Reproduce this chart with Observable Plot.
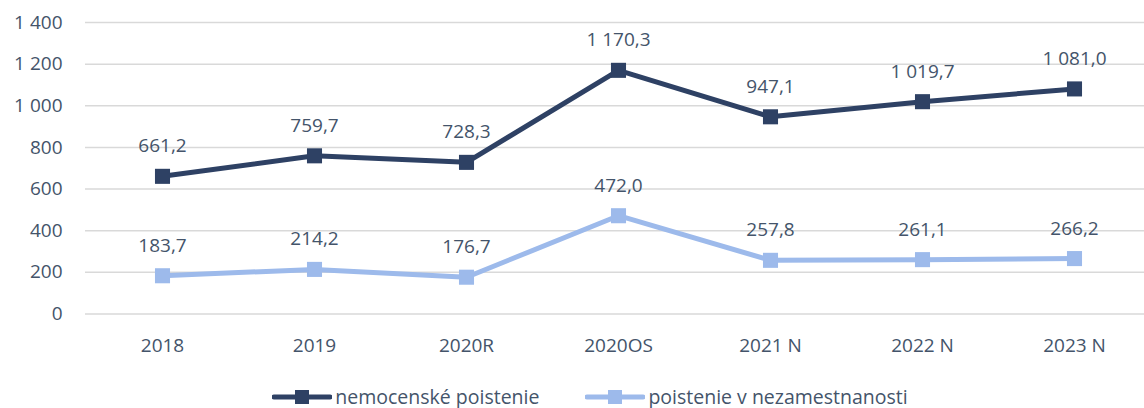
<!DOCTYPE html>
<html><head><meta charset="utf-8">
<script src="https://cdn.jsdelivr.net/npm/d3@7"></script>
<script src="https://cdn.jsdelivr.net/npm/@observablehq/plot@0.6"></script>
<style>
body{margin:0;background:#fff;font-family:"Open Sans",sans-serif;overflow:hidden;}
#chart svg{display:block;}
#legend{display:flex;justify-content:center;gap:46px;padding-left:36px;margin-top:16px;font-size:19.5px;line-height:22px;color:#44546a;}
#legend .it{display:flex;align-items:center;height:22px;}
#legend svg{margin-right:3px;display:block;}
</style></head>
<body>
<div id="chart"></div>
<div id="legend"></div>
<script>
const categories = ["2018","2019","2020R","2020OS","2021 N","2022 N","2023 N"];
const nemocenske = [661.2, 759.7, 728.3, 1170.3, 947.1, 1019.7, 1081.0];
const nezamestnanost = [183.7, 214.2, 176.7, 472.0, 257.8, 261.1, 266.2];
const seriesNames = ["nemocenské poistenie","poistenie v nezamestnanosti"];
const colors = ["#2e4164","#9dbaeb"];
const yTicks = [0,200,400,600,800,1000,1200,1400];

const loc = d3.formatLocale({decimal:",", thousands:" ", grouping:[3], currency:["",""]});
const fLab = loc.format(",.1f");
const fTick = loc.format(",d");

const data = [];
categories.forEach((c,i)=>{
  data.push({cat:c, v:nemocenske[i], s:seriesNames[0]});
  data.push({cat:c, v:nezamestnanost[i], s:seriesNames[1]});
});

const chart = Plot.plot({
  width:1144, height:370,
  marginLeft:85, marginRight:0, marginTop:22, marginBottom:56.5,
  style:{fontFamily:"Open Sans, sans-serif", fontSize:"19px", color:"#44546a", background:"#fff"},
  x:{type:"point", domain:categories, range:[161,1075], padding:0, label:null},
  y:{domain:[0,1400], label:null},
  color:{domain:seriesNames, range:colors},
  marks:[
    Plot.ruleY(yTicks, {stroke:"#d9d9d9", strokeWidth:1.5}),
    Plot.axisY({ticks:yTicks, tickSize:0, tickPadding:23, tickFormat:fTick, fill:"#44546a", fontSize:19}),
    Plot.axisX({tickSize:0, tickPadding:24, fill:"#44546a", fontSize:19}),
    Plot.line(data, {x:"cat", y:"v", z:"s", stroke:"s", strokeWidth:5}),
    Plot.dot(data, {x:"cat", y:"v", fill:"s", symbol:"square", r:8.5}),
    Plot.text(data, {x:"cat", y:"v", text:d=>fLab(d.v), dy:-30, fill:"#44546a", fontSize:19})
  ]
});
document.getElementById("chart").appendChild(chart);

const leg = document.getElementById("legend");
seriesNames.forEach((n,i)=>{
  const it = document.createElement("div"); it.className="it";
  it.innerHTML = `<svg width="60" height="16"><line x1="2" x2="58" y1="8" y2="8" stroke="${colors[i]}" stroke-width="5" stroke-linecap="round"/><rect x="23" y="1" width="14" height="14" fill="${colors[i]}"/></svg><span>${n}</span>`;
  leg.appendChild(it);
});
</script>
</body></html>
